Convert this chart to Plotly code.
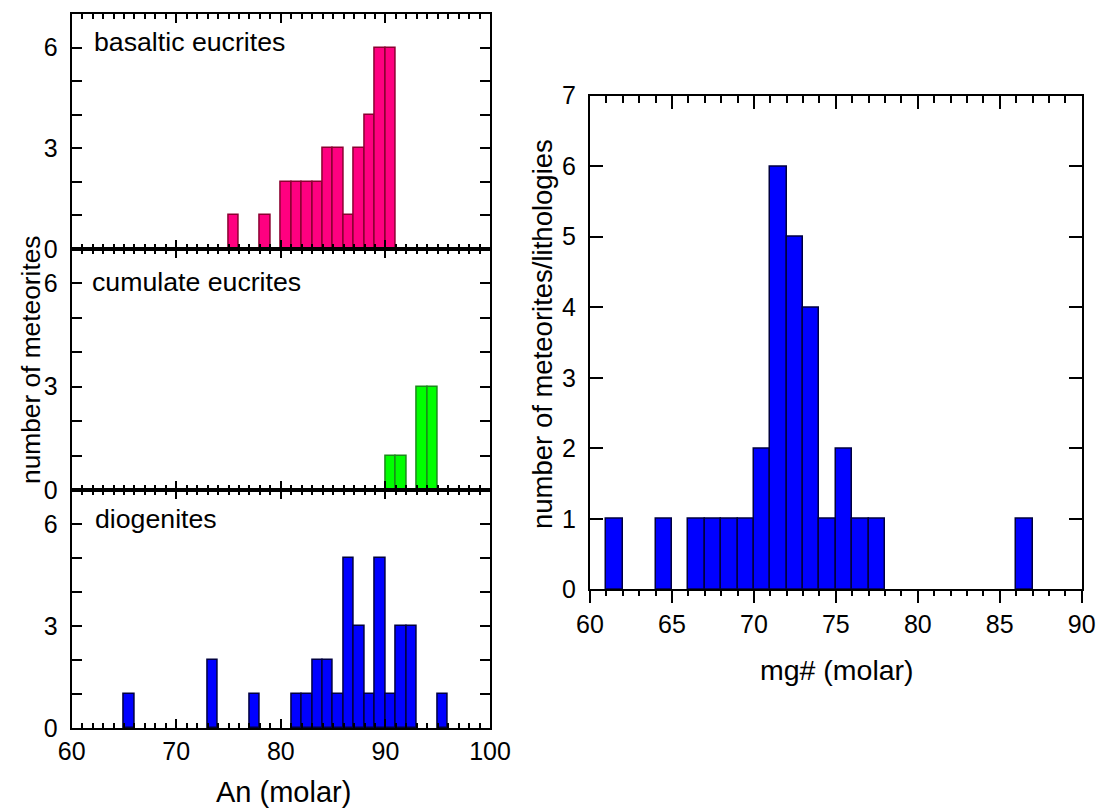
import plotly.graph_objects as go

# ---------------- data ----------------
an_basaltic_bins = [75, 78, 80, 81, 82, 83, 84, 85, 86, 87, 88, 89, 90]
an_basaltic_counts = [1, 1, 2, 2, 2, 2, 3, 3, 1, 3, 4, 6, 6]

an_cumulate_bins = [90, 91, 93, 94]
an_cumulate_counts = [1, 1, 3, 3]

an_diogenite_bins = [65, 73, 77, 81, 82, 83, 84, 85, 86, 87, 88, 89, 90, 91, 92, 95]
an_diogenite_counts = [1, 2, 1, 1, 1, 2, 2, 1, 5, 3, 1, 5, 1, 3, 3, 1]

mg_bins = [61, 64, 66, 67, 68, 69, 70, 71, 72, 73, 74, 75, 76, 77, 86]
mg_counts = [1, 1, 1, 1, 1, 1, 2, 6, 5, 4, 1, 2, 1, 1, 1]

panel_labels = ["basaltic eucrites", "cumulate eucrites", "diogenites"]
an_ticks = [60, 70, 80, 90, 100]
an_y_ticks = [0, 3, 6]
mg_x_ticks = [60, 65, 70, 75, 80, 85, 90]
mg_y_ticks = [0, 1, 2, 3, 4, 5, 6, 7]

# ---------------- styling ----------------
W, H = 1105, 809
FONT = "Liberation Sans, Arial, Helvetica, sans-serif"
PINK, PINK_LINE = "#ff0080", "#8b0030"
GREEN, GREEN_LINE = "#00ff00", "#1a8a1a"
BLUE, BLUE_LINE = "#0000ff", "#000040"


def px_x(p):
    return p / W


def px_y(p):
    return 1 - p / H


left_dom = [px_x(71.7), px_x(490)]
panel_y = [(14, 249), (249, 490), (490, 728)]
right_xdom = [px_x(590), px_x(1081.7)]
right_ydom = [px_y(589.3), px_y(95.7)]

fig = go.Figure()

series = [
    (an_basaltic_bins, an_basaltic_counts, PINK, PINK_LINE),
    (an_cumulate_bins, an_cumulate_counts, GREEN, GREEN_LINE),
    (an_diogenite_bins, an_diogenite_counts, BLUE, BLUE_LINE),
]

for i, (bins, counts, col, lcol) in enumerate(series):
    n = i + 1
    fig.add_trace(go.Bar(
        x=bins, y=counts, width=1, offset=0,
        marker=dict(color=col, line=dict(color=lcol, width=1.5)),
        xaxis=f"x{n}" if n > 1 else "x", yaxis=f"y{n}" if n > 1 else "y",
        showlegend=False, hoverinfo="skip",
    ))

fig.add_trace(go.Bar(
    x=mg_bins, y=mg_counts, width=1, offset=0,
    marker=dict(color=BLUE, line=dict(color=BLUE_LINE, width=1.5)),
    xaxis="x4", yaxis="y4", showlegend=False, hoverinfo="skip",
))
# empty trace to host the top (inward-tick) axis of the right panel
fig.add_trace(go.Scatter(x=[], y=[], xaxis="x5", yaxis="y4",
                         showlegend=False, hoverinfo="skip"))

tickfont = dict(family=FONT, size=25, color="black")

layout = dict(
    width=W, height=H, autosize=False,
    margin=dict(l=0, r=0, t=0, b=0, pad=0, autoexpand=False),
    paper_bgcolor="white", plot_bgcolor="white",
    font=dict(family=FONT, color="black"),
    bargap=0,
)

for i in range(3):
    n = i + 1
    xk = "xaxis" if n == 1 else f"xaxis{n}"
    yk = "yaxis" if n == 1 else f"yaxis{n}"
    ya = "y" if n == 1 else f"y{n}"
    xa = "x" if n == 1 else f"x{n}"
    top, bot = panel_y[i]
    layout[xk] = dict(
        domain=left_dom, anchor=ya, range=[60, 100], automargin=False,
        tickvals=an_ticks, ticks="inside", ticklen=9, tickwidth=2,
        tickcolor="black", showline=True, linecolor="black", linewidth=2,
        mirror="ticks", showgrid=False, zeroline=False,
        showticklabels=(n == 3), tickfont=tickfont,
        minor=dict(dtick=1, ticks="inside", ticklen=5, tickwidth=1.5,
                   tickcolor="black", showgrid=False),
        fixedrange=True,
    )
    layout[yk] = dict(
        domain=[px_y(bot), px_y(top)], anchor=xa, range=[0, 7],
        automargin=False, ticklabelstandoff=7,
        tickvals=an_y_ticks, ticks="inside", ticklen=10, tickwidth=2,
        tickcolor="black", showline=True, linecolor="black", linewidth=2,
        mirror="ticks", showgrid=False, zeroline=False,
        tickfont=tickfont,
        minor=dict(dtick=1, ticks="inside", ticklen=10, tickwidth=2,
                   tickcolor="black", showgrid=False),
        fixedrange=True,
    )

layout["xaxis4"] = dict(
    domain=right_xdom, anchor="y4", range=[60, 90], automargin=False,
    tickvals=mg_x_ticks, ticks="outside", ticklen=12, tickwidth=2,
    tickcolor="black", showline=True, linecolor="black", linewidth=2,
    mirror=True, showgrid=False, zeroline=False, tickfont=tickfont,
    minor=dict(dtick=1, ticks="outside", ticklen=5, tickwidth=1.5,
               tickcolor="black", showgrid=False),
    fixedrange=True,
)
layout["xaxis5"] = dict(
    domain=right_xdom, anchor="y4", overlaying="x4", side="top",
    automargin=False,
    range=[60, 90], tickvals=mg_x_ticks, ticks="inside", ticklen=13,
    tickwidth=2, tickcolor="black", showline=False, showgrid=False,
    zeroline=False, showticklabels=False,
    minor=dict(dtick=1, ticks="inside", ticklen=7, tickwidth=1.5,
               tickcolor="black", showgrid=False),
    fixedrange=True,
)
layout["yaxis4"] = dict(
    domain=right_ydom, anchor="x4", range=[0, 7], automargin=False,
    ticklabelstandoff=7,
    tickvals=mg_y_ticks, ticks="inside", ticklen=13, tickwidth=2,
    tickcolor="black", showline=True, linecolor="black", linewidth=2,
    mirror="ticks", showgrid=False, zeroline=False, tickfont=tickfont,
    fixedrange=True,
)

annotations = []
label_pos = [(92, 42), (90, 282), (93, 519)]
for text, (lx, ly) in zip(panel_labels, label_pos):
    annotations.append(dict(
        text=text, xref="paper", yref="paper", x=px_x(lx), y=px_y(ly),
        xanchor="left", yanchor="middle", showarrow=False,
        font=dict(family=FONT, size=26.7, color="black"),
    ))
annotations.append(dict(
    text="number of meteorites", xref="paper", yref="paper",
    x=px_x(31), y=px_y(360), textangle=-90, showarrow=False,
    xanchor="center", yanchor="middle",
    font=dict(family=FONT, size=26.3, color="black"),
))
annotations.append(dict(
    text="An (molar)", xref="paper", yref="paper",
    x=px_x(283), y=px_y(792), showarrow=False,
    xanchor="center", yanchor="middle",
    font=dict(family=FONT, size=29, color="black"),
))
annotations.append(dict(
    text="number of meteorites/lithologies", xref="paper", yref="paper",
    x=px_x(542), y=px_y(334), textangle=-90, showarrow=False,
    xanchor="center", yanchor="middle",
    font=dict(family=FONT, size=27.5, color="black"),
))
annotations.append(dict(
    text="mg# (molar)", xref="paper", yref="paper",
    x=px_x(837), y=px_y(670), showarrow=False,
    xanchor="center", yanchor="middle",
    font=dict(family=FONT, size=28.5, color="black"),
))
layout["annotations"] = annotations

fig.update_layout(**layout)
fig.write_html("out.html")
